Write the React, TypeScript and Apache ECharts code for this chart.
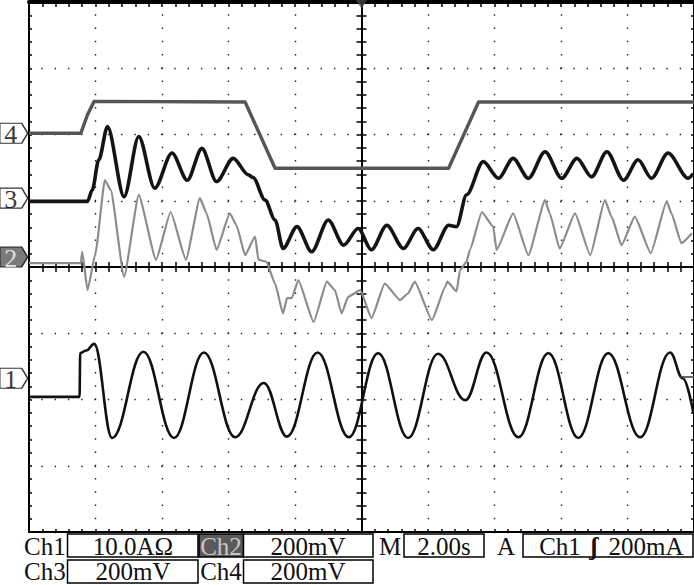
import React, { useEffect, useRef } from "react";
import * as echarts from "echarts";

// x in screen divisions (2.00 s/div), y in vertical divisions
const ch4Data: number[][] = [
  [0, 2.02], [0.78, 2.02], [0.88, 2.3], [0.98, 2.5], [3.25, 2.49], [3.7, 1.49], [6.31, 1.49], [6.76, 2.49], [10, 2.49],
];

const ch3Data: number[][] = [
  [0, 0.99], [0.88, 0.99], [0.95, 1.16], [1.05, 1.62], [1.18, 2.12], [1.43, 1.06], [1.65, 1.97], [1.89, 1.19],
  [2.15, 1.72], [2.38, 1.31], [2.6, 1.79], [2.82, 1.29], [3.07, 1.64], [3.3, 1.39], [3.37, 1.35], [3.55, 1.01],
  [3.7, 0.71], [3.82, 0.28], [4.03, 0.61], [4.25, 0.23], [4.5, 0.71], [4.73, 0.33], [4.95, 0.58], [5.15, 0.26],
  [5.38, 0.63], [5.63, 0.28], [5.85, 0.58], [6.08, 0.26], [6.31, 0.63], [6.43, 0.61], [6.58, 1.09], [6.83, 1.59],
  [7.06, 1.34], [7.28, 1.64], [7.51, 1.34], [7.76, 1.74], [8.01, 1.34], [8.24, 1.64], [8.46, 1.36], [8.69, 1.74],
  [8.94, 1.31], [9.16, 1.62], [9.36, 1.34], [9.61, 1.72], [9.91, 1.34], [9.99, 1.41],
];

const ch2Data: number[][] = [
  [0, 0.06], [0.78, 0.06], [0.8, 0.23], [0.88, -0.35], [1.0, 0.21], [1.14, 1.31], [1.23, 1.16], [1.43, -0.15],
  [1.65, 1.09], [1.91, 0.11], [2.13, 0.83], [2.36, 0.11], [2.57, 1.04], [2.67, 0.81], [2.82, 0.26], [3.02, 0.81],
  [3.12, 0.63], [3.25, 0.18], [3.4, 0.46], [3.45, 0.11], [3.57, 0.08], [3.7, -0.25], [3.82, -0.7], [3.88, -0.47],
  [3.95, -0.47], [4.05, -0.2], [4.28, -0.83], [4.48, -0.22], [4.6, -0.35], [4.7, -0.7], [4.8, -0.45], [4.98, -0.35],
  [5.15, -0.77], [5.35, -0.25], [5.58, -0.5], [5.7, -0.4], [5.8, -0.22], [6.06, -0.8], [6.26, -0.3], [6.29, -0.22],
  [6.43, -0.37], [6.48, -0.05], [6.58, 0.08], [6.63, 0.26], [6.81, 0.83], [6.98, 0.61], [7.03, 0.26], [7.28, 0.81],
  [7.51, 0.18], [7.76, 1.01], [7.83, 0.81], [7.98, 0.28], [8.21, 0.81], [8.44, 0.18], [8.66, 1.01], [8.76, 0.76],
  [8.91, 0.33], [9.11, 0.76], [9.35, 0.21], [9.59, 0.99], [9.66, 0.81], [9.81, 0.36], [9.97, 0.51],
];

const ch1Data: number[][] = [
  [0, -1.96], [0.76, -1.96], [0.77, -1.3], [0.86, -1.26], [0.98, -1.16], [1.25, -2.58], [1.72, -1.28], [2.18, -2.58],
  [2.63, -1.29], [3.1, -2.57], [3.53, -1.75], [3.88, -2.56], [4.34, -1.29], [4.81, -2.57], [5.25, -1.3], [5.7, -2.58],
  [6.15, -1.31], [6.56, -2.01], [6.88, -1.29], [7.36, -2.57], [7.81, -1.3], [8.26, -2.58], [8.71, -1.3], [9.19, -2.57],
  [9.64, -1.29], [9.83, -1.68], [9.99, -2.2],
];

// channel reference levels (divisions) for the left-hand markers
const channelNames = ["4", "3", "2", "1"];
const channelLevels = [2.02, 1.04, 0.15, -1.68];
const markerX = -0.23;
const triggerPos = [5, 4];
const triggerLevel = [9.9, -1.66];

const FONT = "'Liberation Serif', 'Times New Roman', serif";

const dotted = (gap: number) => ({ show: true, lineStyle: { color: "#222", width: 1.4, type: [1.4, gap], dashOffset: 0.7 } });

function xAx(position: string, offset: number, lineW: number, inside: boolean, tickLen: number, split: boolean) {
  return {
    type: "value", min: 0, max: 10, interval: 1, position, offset,
    axisLine: { show: true, onZero: false, lineStyle: { color: "#000", width: lineW } },
    axisTick: { show: true, inside, length: tickLen, lineStyle: { color: "#000", width: 1.5 } },
    minorTick: { show: true, splitNumber: 5, length: tickLen, lineStyle: { color: "#000", width: 1.5 } },
    splitLine: split ? dotted(11.85) : { show: false },
    axisLabel: { show: false },
  };
}
function yAx(position: string, offset: number, lineW: number, inside: boolean, tickLen: number, split: boolean) {
  return {
    type: "value", min: -4, max: 4, interval: 1, position, offset,
    axisLine: { show: true, onZero: false, lineStyle: { color: "#000", width: lineW } },
    axisTick: { show: true, inside, length: tickLen, lineStyle: { color: "#000", width: 1.5 } },
    minorTick: { show: true, splitNumber: 5, length: tickLen, lineStyle: { color: "#000", width: 1.5 } },
    splitLine: split ? dotted(11.9) : { show: false },
    axisLabel: { show: false },
  };
}

const txt = (text: string, x: number, y: number, align = "center", fill = "#111", weight = "normal") => ({
  type: "text", x, y, z: 10,
  style: { text, font: `${weight} 25px ${FONT}`, lineHeight: 22, fill, align, verticalAlign: "middle" },
});
const box = (x: number, y: number, w: number, h: number, fill = "#fff") => ({
  type: "rect", z: 9, shape: { x, y, width: w, height: h }, style: { fill, stroke: "#000", lineWidth: 1.5 },
});

export default function App() {
  const ref = useRef<HTMLDivElement>(null);
  useEffect(() => {
    const chart = echarts.init(ref.current!, null, { renderer: "svg" });
    const line = (data: number[][], color: string, width: number, z: number, smooth: number | boolean = false) => ({
      type: "line", data, xAxisIndex: 0, yAxisIndex: 0, symbol: "none", z, smooth, smoothMonotone: "x",
      lineStyle: { color, width, join: "round" }, silent: true,
    });
    const r1 = 546, r2 = 571;
    const markerLabel = (name: string) => ({
      show: true, position: "inside", offset: [-3, 1], fontFamily: FONT, fontSize: 26,
      color: name === "2" ? "#fff" : "#000", formatter: name,
    });
    chart.setOption({
      animation: false,
      backgroundColor: "#fff",
      grid: { left: 29, top: 2, width: 665, height: 530, outerBoundsMode: "none", containLabel: false },
      xAxis: [
        xAx("bottom", 0, 2, true, 3, true),
        xAx("bottom", -265, 2, true, 5, false),
        xAx("bottom", -265, 2, false, 5, false),
        xAx("top", 0, 4, true, 5, false),
      ],
      yAxis: [
        yAx("left", 0, 2, true, 3, true),
        yAx("left", -332.5, 2, true, 5, false),
        yAx("left", -332.5, 2, false, 5, false),
        yAx("right", 0, 2, true, 3, false),
      ],
      series: [
        line(ch2Data, "#8c8c8c", 2.2, 3, 0.15),
        line(ch1Data, "#111", 2.6, 4, 0.4),
        line(ch3Data, "#141414", 3.6, 5, 0.3),
        line(ch4Data, "#565656", 3.4, 6),
        {
          type: "scatter", xAxisIndex: 0, yAxisIndex: 0, clip: false, z: 8, silent: true,
          symbol: "path://M0,0 L22,0 L28,10 L22,20 L0,20 Z", symbolSize: [28, 20],
          data: channelLevels.map((v, i) => ({
            value: [markerX, v],
            itemStyle: { color: channelNames[i] === "2" ? "#5a5a5a" : "#fff", borderColor: "#000", borderWidth: 1.3 },
            label: markerLabel(channelNames[i]),
          })),
        },
        {
          type: "scatter", xAxisIndex: 0, yAxisIndex: 0, clip: false, z: 8, silent: true,
          symbol: "triangle", symbolRotate: 180, symbolSize: [12, 9], symbolOffset: [0, 2],
          itemStyle: { color: "#444" }, data: [triggerPos],
        },
        {
          type: "scatter", xAxisIndex: 0, yAxisIndex: 0, clip: false, z: 8, silent: true,
          symbol: "rect", symbolSize: [14, 2], itemStyle: { color: "#444" }, data: [triggerLevel],
        },
      ],
      graphic: [
        txt("Ch1", 24, r1, "left"),
        box(67.5, 534, 130.5, 23), txt("10.0AΩ", 133, r1),
        box(199, 534, 44.5, 23, "#5a5a5a"), txt("Ch2", 221, r1, "center", "#c8c8c8"),
        box(243.5, 534, 129.5, 23), txt("200mV", 308, r1),
        txt("M", 390, r1),
        box(404, 534, 80, 23), txt("2.00s", 444, r1),
        txt("A", 506, r1),
        box(523, 534, 170, 23), txt("Ch1", 560, r1), txt("ʃ", 594, r1, "center", "#111", "bold"), txt("200mA", 646, r1),
        txt("Ch3", 24, r2, "left"),
        box(67.5, 560, 130.5, 23), txt("200mV", 133, r2),
        txt("Ch4", 221, r2),
        box(243.5, 560, 129.5, 23), txt("200mV", 308, r2),
      ],
    });
    return () => chart.dispose();
  }, []);
  return (
    <div
      ref={ref}
      style={{ position: "absolute", left: 0, top: 0, width: 694, height: 585, background: "#fff" }}
    />
  );
}
